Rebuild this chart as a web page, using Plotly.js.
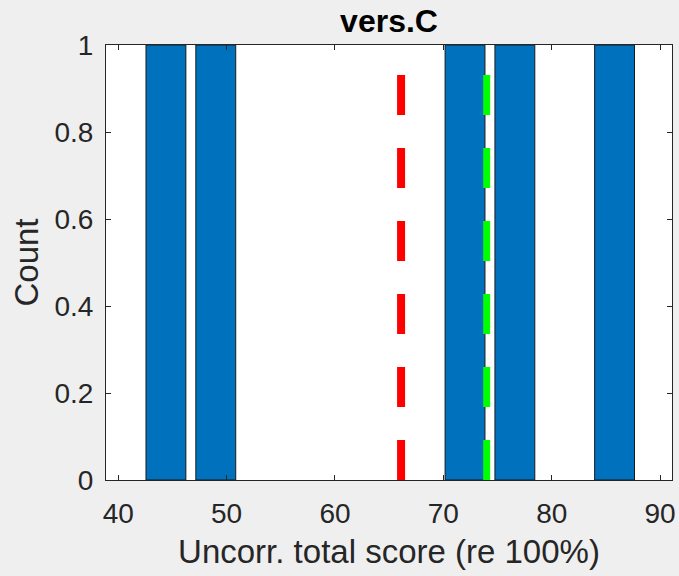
<!DOCTYPE html>
<html>
<head>
<meta charset="utf-8">
<script src="https://cdn.plot.ly/plotly-3.0.1.min.js"></script>
<style>
  html, body { margin: 0; padding: 0; background: #efefef; }
  #chart { width: 679px; height: 576px; }
</style>
</head>
<body>
<div id="chart"></div>
<script>
// Histogram bins (centres) and counts
const binCenters = [44.4, 49.0, 72.0, 76.6, 85.8];
const counts = [1, 1, 1, 1, 1];
// Reference lines (x positions)
const redLineX = [66.1, 66.1];
const greenLineX = [74.0, 74.0];
const lineY = [0, 1];
// Tick labels
const xTicks = [40, 50, 60, 70, 80, 90];
const xTickText = ['40', '50', '60', '70', '80', '90'];
const yTicks = [0, 0.2, 0.4, 0.6, 0.8, 1];
const yTickText = ['0', '0.2', '0.4', '0.6', '0.8', '1'];

const barWidth = 3.68;
const FONT = 'Liberation Sans, Arial, Helvetica, sans-serif';

const traces = [
  {
    type: 'bar',
    x: binCenters,
    y: counts,
    width: binCenters.map(() => barWidth),
    marker: { color: '#0072BD', line: { color: '#1a1a1a', width: 1 } },
    hoverinfo: 'skip',
    showlegend: false
  },
  {
    type: 'scatter',
    mode: 'lines',
    x: redLineX,
    y: lineY,
    line: { color: '#FF0000', width: 8, dash: '40px,33px' },
    showlegend: false
  },
  {
    type: 'scatter',
    mode: 'lines',
    x: greenLineX,
    y: lineY,
    line: { color: '#00FF00', width: 7, dash: '40px,33px' },
    showlegend: false
  }
];

const layout = {
  width: 679,
  height: 576,
  margin: { l: 106, r: 7, t: 45, b: 96, pad: 0 },
  paper_bgcolor: '#efefef',
  plot_bgcolor: '#ffffff',
  font: { family: FONT, color: '#262626', size: 28 },
  title: {
    text: '<b>vers.C</b>',
    font: { family: FONT, size: 32, color: '#000000' },
    x: (389 / 679), xanchor: 'center', xref: 'container',
    y: 1 - 10 / 576, yanchor: 'top', yref: 'container'
  },
  bargap: 0,
  xaxis: {
    range: [38.87, 91.1],
    tickmode: 'array',
    tickvals: xTicks,
    ticktext: xTickText,
    ticks: 'inside',
    ticklen: 5,
    tickcolor: '#262626',
    showline: true,
    linecolor: '#262626',
    linewidth: 1,
    mirror: 'ticks',
    showgrid: false,
    zeroline: false,
    ticklabelstandoff: 8,
    tickfont: { family: FONT, size: 28, color: '#262626' },
    title: { text: 'Uncorr. total score (re 100%)', font: { family: FONT, size: 33, color: '#262626' }, standoff: 12 }
  },
  yaxis: {
    range: [0, 1],
    tickmode: 'array',
    tickvals: yTicks,
    ticktext: yTickText,
    ticks: 'inside',
    ticklen: 5,
    tickcolor: '#262626',
    showline: true,
    linecolor: '#262626',
    linewidth: 1,
    mirror: 'ticks',
    showgrid: false,
    zeroline: false,
    ticklabelstandoff: 6,
    tickfont: { family: FONT, size: 28, color: '#262626' },
    title: { text: 'Count', font: { family: FONT, size: 33, color: '#262626' }, standoff: 5 }
  }
};

Plotly.newPlot('chart', traces, layout, { displayModeBar: false, staticPlot: true });
</script>
</body>
</html>
